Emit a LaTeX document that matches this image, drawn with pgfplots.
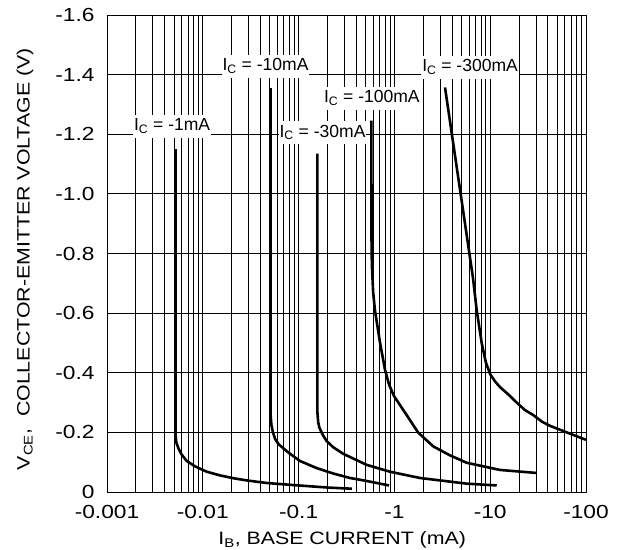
\documentclass[border=0pt]{standalone}
\usepackage{fontspec}
\setmainfont{Liberation Sans}
\newfontfamily\tickfont{Liberation Sans}[FakeStretch=1.2]
\newfontfamily\labelfont{Liberation Sans}[FakeStretch=1.19]
\usepackage{pgfplots}
\pgfplotsset{compat=1.18}

\begin{document}
\begin{tikzpicture}
\useasboundingbox (-107bp,-58bp) rectangle (514bp,492bp);
\begin{axis}[
  at={(0,0)}, anchor=south west,
  width=479bp, height=477bp, scale only axis,
  xmode=log, xmin=0.001, xmax=100,
  ymin=0, ymax=1.6,
  xtick={0.001,0.01,0.1,1,10,100},
  xticklabels={-0.001,-0.01,-0.1,-1,-10,-100},
  minor xtick={0.002,0.003,0.004,0.005,0.006,0.007,0.008,0.009,
               0.02,0.03,0.04,0.05,0.06,0.07,0.08,0.09,
               0.2,0.3,0.4,0.5,0.6,0.7,0.8,0.9,
               2,3,4,5,6,7,8,9,
               20,30,40,50,60,70,80,90},
  ytick={0,0.2,0.4,0.6,0.8,1.0,1.2,1.4,1.6},
  yticklabels={0,-0.2,-0.4,-0.6,-0.8,-1.0,-1.2,-1.4,-1.6},
  grid=both,
  grid style={black, line width=0.8bp},
  minor grid style={black, line width=0.8bp},
  axis line style={black, line width=0.8bp},
  major tick length=0pt, minor tick length=0pt,
  /pgf/number format/assume math mode=true,
  ticklabel style={font=\tickfont\fontsize{19}{22}\selectfont},
  xticklabel style={anchor=base, yshift=-26bp},
  yticklabel style={anchor=east, xshift=-9bp},
  xlabel={I\textsubscript{B}, BASE CURRENT (mA)},
  ylabel={V\textsubscript{CE},\ \ COLLECTOR-EMITTER VOLTAGE (V)},
  label style={font=\labelfont\fontsize{18}{21}\selectfont},
  xlabel style={at={(axis description cs:0.491,-0.111)}, anchor=base},
  ylabel style={at={(axis description cs:-0.171,0.488)}, anchor=center},
  curve/.style={black, line width=2.6bp, line join=round, no markers},
]
% I_C = -1 mA
\addplot[curve] coordinates {(0.0052,1.15) (0.0052,0.19) (0.0053,0.165) (0.0056,0.145)
  (0.006,0.126) (0.0068,0.104) (0.0083,0.086) (0.011,0.068) (0.015,0.056)
  (0.021,0.046) (0.03,0.038) (0.047,0.03) (0.1,0.022) (0.2,0.015) (0.36,0.011)};
% I_C = -10 mA
\addplot[curve] coordinates {(0.051,1.355) (0.051,0.26) (0.052,0.225) (0.054,0.2)
  (0.057,0.177) (0.062,0.16) (0.069,0.147) (0.08,0.13) (0.1035,0.104)
  (0.155,0.08) (0.23,0.062) (0.344,0.047) (0.514,0.037) (0.88,0.022)};
% I_C = -30 mA
\addplot[curve] coordinates {(0.157,1.135) (0.157,0.27) (0.16,0.235) (0.165,0.215)
  (0.18,0.19) (0.196,0.171) (0.23,0.15) (0.293,0.128) (0.514,0.091)
  (0.9,0.068) (1.85,0.047) (5.69,0.028) (11.7,0.022)};
% I_C = -100 mA
\addplot[curve] coordinates {(0.575,1.246) (0.577,0.85) (0.582,0.76) (0.6,0.67)
  (0.627,0.609) (0.707,0.502) (0.798,0.41) (0.88,0.36) (0.99,0.322)
  (1.344,0.258) (1.763,0.2) (2.545,0.153) (3.8,0.123) (5.69,0.098)
  (12.65,0.074) (30.1,0.064)};
% I_C = -300 mA
\addplot[curve] coordinates {(3.375,1.357) (6.15,0.787) (6.6,0.72) (7.23,0.61)
  (8.15,0.50) (9.0,0.435) (10.0,0.395) (11.3,0.37) (12.65,0.352) (15.5,0.327)
  (18.9,0.30) (23,0.275) (28.2,0.258) (35,0.235) (42.1,0.222) (62.9,0.2) (100,0.175)};

\begin{scope}[every node/.style={fill=white, inner xsep=1bp, inner ysep=4bp,
    anchor=base, font=\fontsize{17.6}{20}\selectfont}]
\node at (rel axis cs:0.136,0.757) {I\textsubscript{C} = -1mA};
\node at (rel axis cs:0.331,0.883) {I\textsubscript{C} = -10mA};
\node at (rel axis cs:0.450,0.744) {I\textsubscript{C} = -30mA};
\node at (rel axis cs:0.553,0.816) {I\textsubscript{C} = -100mA};
\node at (rel axis cs:0.758,0.881) {I\textsubscript{C} = -300mA};
\end{scope}
\end{axis}
\end{tikzpicture}
\end{document}
